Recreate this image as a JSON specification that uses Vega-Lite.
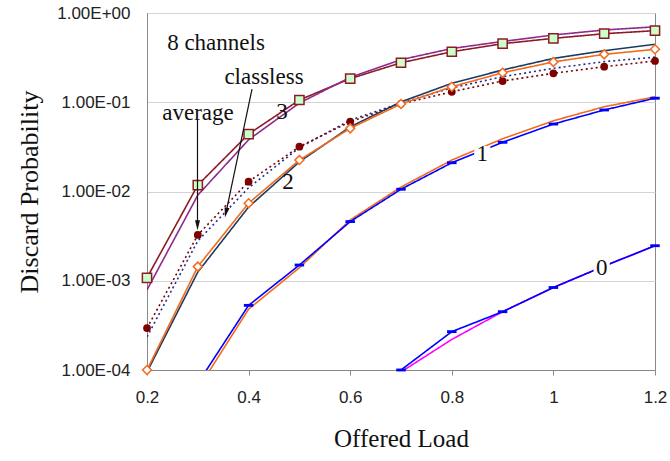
{
  "$schema": "https://vega.github.io/schema/vega-lite/v6.json",
  "autosize": "none",
  "width": 508,
  "height": 357,
  "padding": {"left": 147, "top": 13, "right": 15, "bottom": 91},
  "background": "white",
  "config": {"view": {"stroke": "#888888", "strokeWidth": 1}},
  "datasets": {
    "series": [
      {"s": "c3", "x": 0.2, "y": 0.00108}, {"s": "c3", "x": 0.3, "y": 0.0118}, {"s": "c3", "x": 0.4, "y": 0.044}, {"s": "c3", "x": 0.5, "y": 0.106}, {"s": "c3", "x": 0.6, "y": 0.184}, {"s": "c3", "x": 0.7, "y": 0.277}, {"s": "c3", "x": 0.8, "y": 0.368}, {"s": "c3", "x": 0.9, "y": 0.453}, {"s": "c3", "x": 1.0, "y": 0.52}, {"s": "c3", "x": 1.1, "y": 0.586}, {"s": "c3", "x": 1.2, "y": 0.634},
      {"s": "c3cl", "x": 0.2, "y": 0.00079}, {"s": "c3cl", "x": 0.3, "y": 0.0091}, {"s": "c3cl", "x": 0.4, "y": 0.038}, {"s": "c3cl", "x": 0.5, "y": 0.098}, {"s": "c3cl", "x": 0.6, "y": 0.19}, {"s": "c3cl", "x": 0.7, "y": 0.30}, {"s": "c3cl", "x": 0.8, "y": 0.40}, {"s": "c3cl", "x": 0.9, "y": 0.48}, {"s": "c3cl", "x": 1.0, "y": 0.567}, {"s": "c3cl", "x": 1.1, "y": 0.645}, {"s": "c3cl", "x": 1.2, "y": 0.70},
      {"s": "avgcl", "x": 0.2, "y": 0.000235}, {"s": "avgcl", "x": 0.3, "y": 0.0028}, {"s": "avgcl", "x": 0.4, "y": 0.011}, {"s": "avgcl", "x": 0.5, "y": 0.031}, {"s": "avgcl", "x": 0.6, "y": 0.063}, {"s": "avgcl", "x": 0.7, "y": 0.098}, {"s": "avgcl", "x": 0.8, "y": 0.145}, {"s": "avgcl", "x": 0.9, "y": 0.193}, {"s": "avgcl", "x": 1.0, "y": 0.24}, {"s": "avgcl", "x": 1.1, "y": 0.285}, {"s": "avgcl", "x": 1.2, "y": 0.32},
      {"s": "avg", "x": 0.2, "y": 0.000295}, {"s": "avg", "x": 0.3, "y": 0.00326}, {"s": "avg", "x": 0.4, "y": 0.0129}, {"s": "avg", "x": 0.5, "y": 0.0318}, {"s": "avg", "x": 0.6, "y": 0.0605}, {"s": "avg", "x": 0.7, "y": 0.096}, {"s": "avg", "x": 0.8, "y": 0.131}, {"s": "avg", "x": 0.9, "y": 0.173}, {"s": "avg", "x": 1.0, "y": 0.211}, {"s": "avg", "x": 1.1, "y": 0.25}, {"s": "avg", "x": 1.2, "y": 0.29},
      {"s": "c2cl", "x": 0.2, "y": 0.000095}, {"s": "c2cl", "x": 0.3, "y": 0.00125}, {"s": "c2cl", "x": 0.4, "y": 0.0067}, {"s": "c2cl", "x": 0.5, "y": 0.0215}, {"s": "c2cl", "x": 0.6, "y": 0.053}, {"s": "c2cl", "x": 0.7, "y": 0.101}, {"s": "c2cl", "x": 0.8, "y": 0.163}, {"s": "c2cl", "x": 0.9, "y": 0.23}, {"s": "c2cl", "x": 1.0, "y": 0.31}, {"s": "c2cl", "x": 1.1, "y": 0.378}, {"s": "c2cl", "x": 1.2, "y": 0.446},
      {"s": "c2", "x": 0.2, "y": 0.0001}, {"s": "c2", "x": 0.3, "y": 0.00144}, {"s": "c2", "x": 0.4, "y": 0.0074}, {"s": "c2", "x": 0.5, "y": 0.0225}, {"s": "c2", "x": 0.6, "y": 0.051}, {"s": "c2", "x": 0.7, "y": 0.0957}, {"s": "c2", "x": 0.8, "y": 0.149}, {"s": "c2", "x": 0.9, "y": 0.214}, {"s": "c2", "x": 1.0, "y": 0.283}, {"s": "c2", "x": 1.1, "y": 0.344}, {"s": "c2", "x": 1.2, "y": 0.392},
      {"s": "c1o", "x": 0.3, "y": 0.000061}, {"s": "c1o", "x": 0.4, "y": 0.00048}, {"s": "c1o", "x": 0.5, "y": 0.0014}, {"s": "c1o", "x": 0.6, "y": 0.0048}, {"s": "c1o", "x": 0.7, "y": 0.0112}, {"s": "c1o", "x": 0.8, "y": 0.0225}, {"s": "c1o", "x": 0.9, "y": 0.039}, {"s": "c1o", "x": 1.0, "y": 0.062}, {"s": "c1o", "x": 1.1, "y": 0.089}, {"s": "c1o", "x": 1.2, "y": 0.115},
      {"s": "c1", "x": 0.3, "y": 0.000071}, {"s": "c1", "x": 0.4, "y": 0.00053}, {"s": "c1", "x": 0.5, "y": 0.0015}, {"s": "c1", "x": 0.6, "y": 0.0046}, {"s": "c1", "x": 0.7, "y": 0.0106}, {"s": "c1", "x": 0.8, "y": 0.021}, {"s": "c1", "x": 0.9, "y": 0.0356}, {"s": "c1", "x": 1.0, "y": 0.057}, {"s": "c1", "x": 1.1, "y": 0.0819}, {"s": "c1", "x": 1.2, "y": 0.111},
      {"s": "c0m", "x": 0.7, "y": 0.000095}, {"s": "c0m", "x": 0.8, "y": 0.00022}, {"s": "c0m", "x": 0.9, "y": 0.00045}, {"s": "c0m", "x": 1.0, "y": 0.00084}, {"s": "c0m", "x": 1.1, "y": 0.00146}, {"s": "c0m", "x": 1.2, "y": 0.00247},
      {"s": "c0", "x": 0.7, "y": 0.0001}, {"s": "c0", "x": 0.8, "y": 0.000269}, {"s": "c0", "x": 0.9, "y": 0.00045}, {"s": "c0", "x": 1.0, "y": 0.00084}, {"s": "c0", "x": 1.1, "y": 0.00146}, {"s": "c0", "x": 1.2, "y": 0.00247}
    ],
    "labels": [
      {"t": "8 channels", "x": 0.3358, "y": 0.461, "box": "no"},
      {"t": "classless", "x": 0.4303, "y": 0.192, "box": "no"},
      {"t": "average", "x": 0.3004, "y": 0.0764, "box": "no"},
      {"t": "3", "x": 0.4657, "y": 0.0784, "box": "no"},
      {"t": "2", "x": 0.4776, "y": 0.0129, "box": "no"},
      {"t": "1", "x": 0.86, "y": 0.0263, "box": "yes"},
      {"t": "0", "x": 1.095, "y": 0.001378, "box": "yes"}
    ],
    "arrows": [
      {"a": "average", "x": 0.2994, "y": 0.0633, "x2": 0.2994, "y2": 0.0042, "ang": 0},
      {"a": "classless", "x": 0.4067, "y": 0.1407, "x2": 0.3555, "y2": 0.0058, "ang": 12}
    ]
  },
  "layer": [
    {
      "data": {"name": "series"},
      "mark": {"type": "line", "strokeWidth": 1.6, "clip": true},
      "encoding": {
        "x": {"field": "x", "type": "quantitative", "scale": {"domain": [0.2, 1.2], "nice": false, "zero": false},
              "axis": {"values": [0.2, 0.4, 0.6, 0.8, 1.0, 1.2], "format": "~g", "title": "Offered Load", "grid": false, "domainColor": "#888888", "tickColor": "#888888", "tickSize": 5, "labelFont": "Liberation Sans", "labelFontSize": 17, "labelColor": "#222222", "labelPadding": 14, "labelFlush": false, "titleFont": "Liberation Serif", "titleFontSize": 25, "titleFontWeight": "normal", "titleColor": "#111111", "titlePadding": 21}},
        "y": {"field": "y", "type": "quantitative", "scale": {"type": "log", "domain": [0.0001, 1], "nice": false},
              "axis": {"values": [0.0001, 0.001, 0.01, 0.1, 1], "labelExpr": "'1.00E' + (datum.value >= 1 ? '+00' : '-0' + round(-log(datum.value)/LN10))", "title": "Discard Probability", "grid": true, "gridColor": "#d4d4d4", "domainColor": "#888888", "ticks": false, "labelPadding": 17, "labelFont": "Liberation Sans", "labelFontSize": 17, "labelColor": "#222222", "titleFont": "Liberation Serif", "titleFontSize": 26, "titleFontWeight": "normal", "titleColor": "#111111", "titlePadding": 14}},
        "detail": {"field": "s"},
        "color": {"field": "s", "type": "nominal", "legend": null,
                  "scale": {"domain": ["c3", "c3cl", "avgcl", "avg", "c2cl", "c2", "c1o", "c1", "c0m", "c0"],
                            "range": ["#8c1c24", "#8e2b8e", "#1f2f8f", "#7f0000", "#1f3a5f", "#f26b1d", "#f26b1d", "#0000ff", "#ff00ff", "#0000ff"]}},
        "strokeDash": {"field": "s", "type": "nominal", "legend": null,
                  "scale": {"domain": ["c3", "c3cl", "avgcl", "avg", "c2cl", "c2", "c1o", "c1", "c0m", "c0"],
                            "range": [[1, 0], [1, 0], [2, 3], [2, 3], [1, 0], [1, 0], [1, 0], [1, 0], [1, 0], [1, 0]]}}
      }
    },
    {
      "data": {"name": "series"},
      "transform": [{"filter": "datum.s == 'c3'"}],
      "mark": {"type": "point", "shape": "square", "size": 85, "filled": true, "fill": "#ccffcc", "stroke": "#8c1c24", "strokeWidth": 1.5, "opacity": 1},
      "encoding": {"x": {"field": "x", "type": "quantitative"}, "y": {"field": "y", "type": "quantitative"}}
    },
    {
      "data": {"name": "series"},
      "transform": [{"filter": "datum.s == 'avg'"}],
      "mark": {"type": "point", "shape": "circle", "size": 60, "filled": true, "fill": "#7f0000", "opacity": 1},
      "encoding": {"x": {"field": "x", "type": "quantitative"}, "y": {"field": "y", "type": "quantitative"}}
    },
    {
      "data": {"name": "series"},
      "transform": [{"filter": "datum.s == 'c2' && datum.y >= 0.0001"}],
      "mark": {"type": "point", "shape": "diamond", "size": 80, "filled": true, "fill": "white", "stroke": "#f26b1d", "strokeWidth": 1.5, "opacity": 1},
      "encoding": {"x": {"field": "x", "type": "quantitative"}, "y": {"field": "y", "type": "quantitative"}}
    },
    {
      "data": {"name": "series"},
      "transform": [{"filter": "(datum.s == 'c1' || datum.s == 'c0') && datum.y >= 0.0001"}],
      "mark": {"type": "point", "shape": "M-1,-0.3H1V0.3H-1Z", "size": 90, "filled": true, "fill": "#0000ff", "opacity": 1},
      "encoding": {"x": {"field": "x", "type": "quantitative"}, "y": {"field": "y", "type": "quantitative"}}
    },
    {
      "data": {"name": "labels"},
      "transform": [{"filter": "datum.box == 'yes'"}],
      "mark": {"type": "point", "shape": "square", "size": 260, "filled": true, "fill": "white", "opacity": 1},
      "encoding": {"x": {"field": "x", "type": "quantitative"}, "y": {"field": "y", "type": "quantitative"}}
    },
    {
      "data": {"name": "labels"},
      "mark": {"type": "text", "font": "Liberation Serif", "fontSize": 23, "color": "#111111", "align": "center", "baseline": "middle"},
      "encoding": {"x": {"field": "x", "type": "quantitative"}, "y": {"field": "y", "type": "quantitative"}, "text": {"field": "t"}}
    },
    {
      "data": {"name": "arrows"},
      "mark": {"type": "rule", "color": "#111111", "strokeWidth": 1.2},
      "encoding": {"x": {"field": "x", "type": "quantitative"}, "y": {"field": "y", "type": "quantitative"}, "x2": {"field": "x2"}, "y2": {"field": "y2"}}
    },
    {
      "data": {"name": "arrows"},
      "mark": {"type": "point", "shape": "M0,1L-0.5,-1L0.5,-1Z", "size": 100, "filled": true, "fill": "#111111", "opacity": 1},
      "encoding": {"x": {"field": "x2", "type": "quantitative"}, "y": {"field": "y2", "type": "quantitative"}, "angle": {"field": "ang", "type": "quantitative", "scale": null}}
    }
  ]
}
